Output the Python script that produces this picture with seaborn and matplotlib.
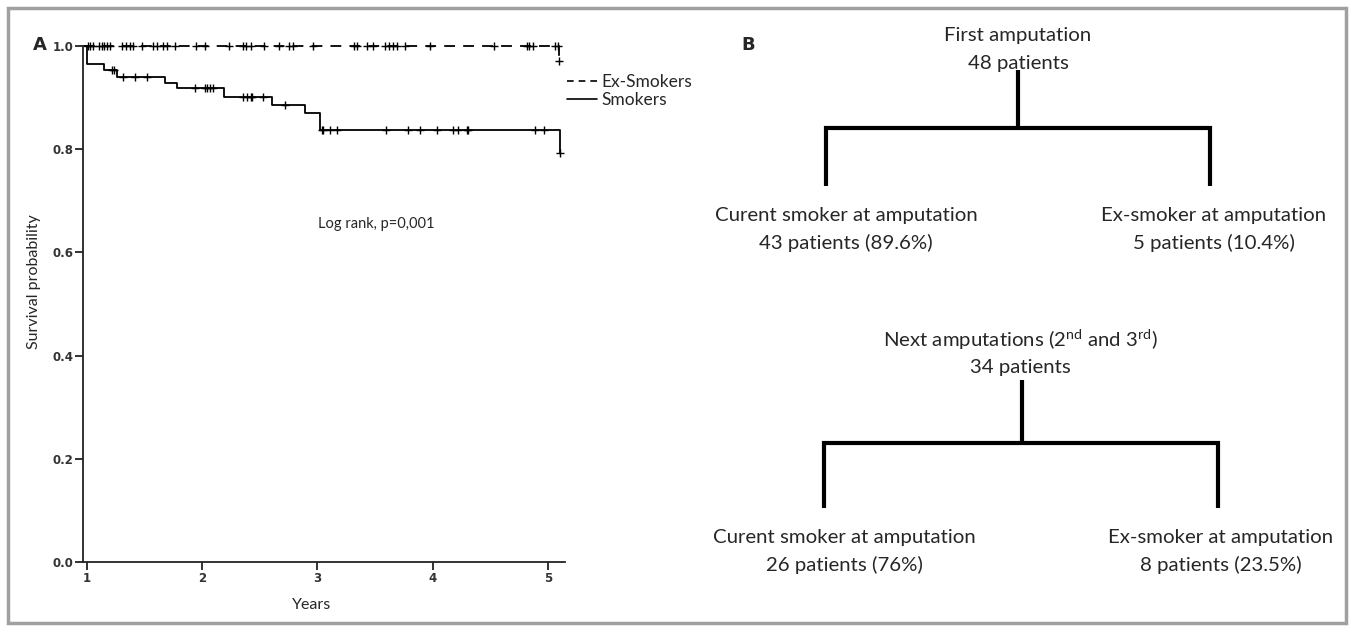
import numpy as np
import pandas as pd
import seaborn as sns
import matplotlib.pyplot as plt
from matplotlib.lines import Line2D
from matplotlib.patches import Rectangle

# Kaplan-Meier steps
smk_times = [0.97, 1.00, 1.15, 1.26, 1.68, 1.78, 2.19, 2.61, 2.89, 3.02, 5.11]
smk_surv = [1.0, 0.966, 0.953, 0.940, 0.928, 0.918, 0.902, 0.885, 0.870, 0.837, 0.792]
smk_cens = [1.22, 1.23, 1.31, 1.42, 1.52, 1.94, 2.02, 2.04, 2.07, 2.09, 2.35, 2.39, 2.42,
            2.43, 2.53, 2.72, 3.04, 3.05, 3.11, 3.17, 3.60, 3.79, 3.89, 4.04, 4.18, 4.22,
            4.30, 4.31, 4.89, 4.97, 5.11]

ex_times = [0.97, 5.10]
ex_surv = [1.0, 0.97]
ex_cens = [1.01, 1.03, 1.05, 1.10, 1.13, 1.15, 1.17, 1.20, 1.30, 1.34, 1.37, 1.40, 1.48,
           1.57, 1.61, 1.66, 1.69, 1.76, 1.95, 2.02, 2.23, 2.35, 2.38, 2.42, 2.54, 2.67,
           2.75, 2.79, 2.96, 3.32, 3.34, 3.43, 3.48, 3.59, 3.62, 3.66, 3.69, 3.76, 3.98,
           4.53, 4.82, 4.84, 4.87, 5.06, 5.09, 5.10]

groups = ['Ex-Smokers', 'Smokers']
y_ticks = [0.0, 0.2, 0.4, 0.6, 0.8, 1.0]
x_ticks = [1, 2, 3, 4, 5]

# tree diagram texts
tree1_top = ['First amputation', '48 patients']
tree1_left = ['Curent smoker at amputation', '43 patients (89.6%)']
tree1_right = ['Ex-smoker at amputation', '5 patients (10.4%)']
tree2_top = [r'Next amputations (2$^{\mathrm{nd}}$ and 3$^{\mathrm{rd}}$)', '34 patients']
tree2_left = ['Curent smoker at amputation', '26 patients (76%)']
tree2_right = ['Ex-smoker at amputation', '8 patients (23.5%)']


def step_value(times, surv, t):
    i = np.searchsorted(times, t, side='right') - 1
    return surv[i]


curves = pd.concat([
    pd.DataFrame({'years': ex_times, 'surv': ex_surv, 'group': 'Ex-Smokers'}),
    pd.DataFrame({'years': smk_times, 'surv': smk_surv, 'group': 'Smokers'}),
])
cens = pd.concat([
    pd.DataFrame({'years': ex_cens, 'surv': [step_value(ex_times, ex_surv, t) for t in ex_cens]}),
    pd.DataFrame({'years': smk_cens, 'surv': [step_value(smk_times, smk_surv, t) for t in smk_cens]}),
])

sns.set_style('white')
plt.rcParams['font.family'] = ['Lato', 'DejaVu Sans']
plt.rcParams['mathtext.fontset'] = 'custom'
plt.rcParams['mathtext.rm'] = 'Lato'

W, H = 1353, 633
fig = plt.figure(figsize=(W / 100, H / 100), dpi=100)

# panel A
ax = fig.add_axes([83 / W, 1 - 562 / H, (565 - 83) / W, (562 - 46) / H])
sns.lineplot(data=curves, x='years', y='surv', hue='group', style='group',
             palette={'Ex-Smokers': 'black', 'Smokers': 'black'},
             dashes={'Ex-Smokers': (6, 4.5), 'Smokers': ''},
             drawstyle='steps-post', estimator=None, sort=False,
             linewidth=1.3, legend=False, ax=ax)
sns.scatterplot(data=cens, x='years', y='surv', marker='+', s=32, color='black',
                linewidth=1.0, legend=False, ax=ax)
for art in ax.lines + ax.collections:
    art.set_clip_on(False)

ax.set_xlim(0.965, 5.15)
ax.set_ylim(0, 1.0)
ax.set_xticks(x_ticks)
ax.set_yticks(y_ticks)
ax.set_yticklabels([f'{v:.1f}' for v in y_ticks])
ax.tick_params(axis='both', direction='out', length=6, width=1.3, color='#222222',
               labelsize=8.5, labelcolor='#333333', left=True, bottom=True, pad=1)
for lab in ax.get_xticklabels() + ax.get_yticklabels():
    lab.set_family('DejaVu Sans')
    lab.set_fontweight('bold')
sns.despine(ax=ax)
for s in ['left', 'bottom']:
    ax.spines[s].set_linewidth(1.3)
    ax.spines[s].set_color('#222222')
ax.set_xlabel('Years', fontsize=11.5)
ax.xaxis.set_label_coords((312 - 83) / 482, -(598 - 562) / 516)
ax.set_ylabel('Survival probability', fontsize=11.5)
ax.yaxis.set_label_coords(-(83 - 41) / 482, (562 - 282) / 516)
ax.text(3.51, 0.656, 'Log rank, p=0,001', fontsize=10.5, ha='center', va='center')

handles = [Line2D([0], [0], color='black', lw=1.2, ls=(0, (4, 3))),
           Line2D([0], [0], color='black', lw=1.2)]
fig.legend(handles, groups, loc='center left', bbox_to_anchor=(567 / W, 1 - 91 / H),
           frameon=False, fontsize=12.5, handlelength=1.7, handletextpad=0.3,
           labelspacing=0.1, borderpad=0, borderaxespad=0)

# panel B: tree diagram drawn in pixel coordinates
bx = fig.add_axes([0, 0, 1, 1], zorder=-1)
bx.set_xlim(0, W)
bx.set_ylim(H, 0)
bx.axis('off')

fs = 14.7
def node(lines, x, y):
    bx.text(x, y, lines[0], ha='center', va='center', fontsize=fs)
    bx.text(x, y + 27, lines[1], ha='center', va='center', fontsize=fs)

def tree(xc, xl, xr, y0, y1, y2):
    bx.plot([xc, xc], [y0, y1], color='black', lw=3, solid_capstyle='butt')
    bx.plot([xl, xl, xr, xr], [y2, y1, y1, y2], color='black', lw=3,
            solid_joinstyle='miter', solid_capstyle='butt')

node(tree1_top, 1018, 36)
tree(1018, 826, 1210, 70, 128, 186)
node(tree1_left, 846, 216)
node(tree1_right, 1214, 216)

node(tree2_top, 1020, 340)
tree(1022, 824, 1218, 380, 443, 508)
node(tree2_left, 844, 538)
node(tree2_right, 1221, 538)

fig.text(40 / W, 1 - 45 / H, 'A', fontsize=13, fontweight='bold', family='DejaVu Sans',
         ha='center', va='center')
fig.text(748 / W, 1 - 45 / H, 'B', fontsize=13, fontweight='bold', family='DejaVu Sans',
         ha='center', va='center')

fig.patches.append(Rectangle((8 / W, 1 - 623 / H), (1346 - 8) / W, (623 - 8) / H,
                             transform=fig.transFigure, fill=False,
                             edgecolor='#a0a0a0', linewidth=2.5))

fig.savefig('out.png', dpi=100)
